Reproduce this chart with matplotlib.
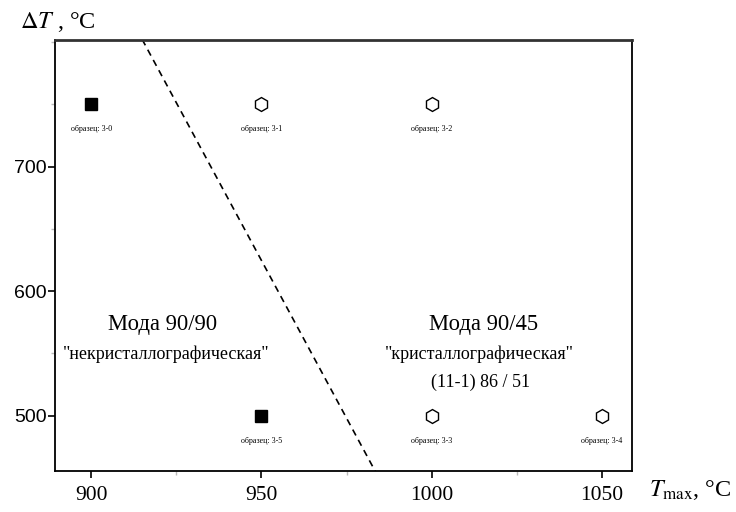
import matplotlib
matplotlib.use("Agg")
import matplotlib.pyplot as plt
from matplotlib.ticker import MultipleLocator

plt.rcParams['font.family'] = ['Liberation Serif', 'DejaVu Serif']
plt.rcParams['mathtext.fontset'] = 'stix'

# data
filled_T = [900, 950]
filled_dT = [750, 500]
filled_names = ["образец: 3-0", "образец: 3-5"]
open_T = [950, 1000, 1000, 1050]
open_dT = [750, 750, 500, 500]
open_names = ["образец: 3-1", "образец: 3-2", "образец: 3-3", "образец: 3-4"]
boundary_T = [915, 983.5]
boundary_dT = [802, 455]
xticks = [900, 950, 1000, 1050]
yticks = [500, 600, 700]

fig = plt.figure(figsize=(7.36, 5.12), dpi=100)
ax = fig.add_axes([0.0747, 0.080, 0.784, 0.842])
ax.set_xlim(889.4, 1058.8)
ax.set_ylim(455.6, 801.6)

ax.plot(boundary_T, boundary_dT, ls=(0, (4, 3)), color='black', lw=1.2)
ax.plot(filled_T, filled_dT, ls='none', marker='s', ms=9, color='black')
ax.plot(open_T, open_dT, ls='none', marker='h', ms=10, mfc='white', mec='black', mew=1.0)

for x, y, s in zip(filled_T + open_T, filled_dT + open_dT, filled_names + open_names):
    ax.annotate(s, (x, y), xytext=(0, -18), textcoords='offset points',
                ha='center', va='center', fontsize=5.8)

ax.text(921.1, 573.4, "Мода 90/90", ha='center', va='center', fontsize=16.3)
ax.text(922, 549.5, "\"некристаллографическая\"", ha='center', va='center', fontsize=13)
ax.text(1015.1, 573.4, "Мода 90/45", ha='center', va='center', fontsize=16.3)
ax.text(1014, 549, "\"кристаллографическая\"", ha='center', va='center', fontsize=13)
ax.text(1014.2, 527, "(11-1) 86 / 51", ha='center', va='center', fontsize=13)

ax.set_xticks(xticks)
ax.set_yticks(yticks)
ax.xaxis.set_minor_locator(MultipleLocator(25))
ax.yaxis.set_minor_locator(MultipleLocator(50))
ax.tick_params(axis='both', which='major', direction='out', length=5, width=1.2)
ax.tick_params(axis='x', which='major', pad=6, labelsize=15.5)
ax.tick_params(axis='y', which='major', pad=1, labelsize=14)
for lab in ax.get_yticklabels():
    lab.set_fontfamily(['Liberation Sans', 'DejaVu Sans'])
ax.tick_params(axis='both', which='minor', direction='out', length=3, width=1, color='#bbbbbb')
for s in ['left', 'bottom', 'right']:
    ax.spines[s].set_linewidth(1.3)
ax.spines['top'].set_linewidth(2)
ax.spines['top'].set_color('#333333')

fig.text(0.027, 0.958, r"$\Delta T$ , °C", fontsize=17.5, ha='left', va='center')
fig.text(0.882, 0.043, r"$T_{\mathrm{max}}$, °C", fontsize=17.5, ha='left', va='center')

fig.savefig("out.png", dpi=100)
